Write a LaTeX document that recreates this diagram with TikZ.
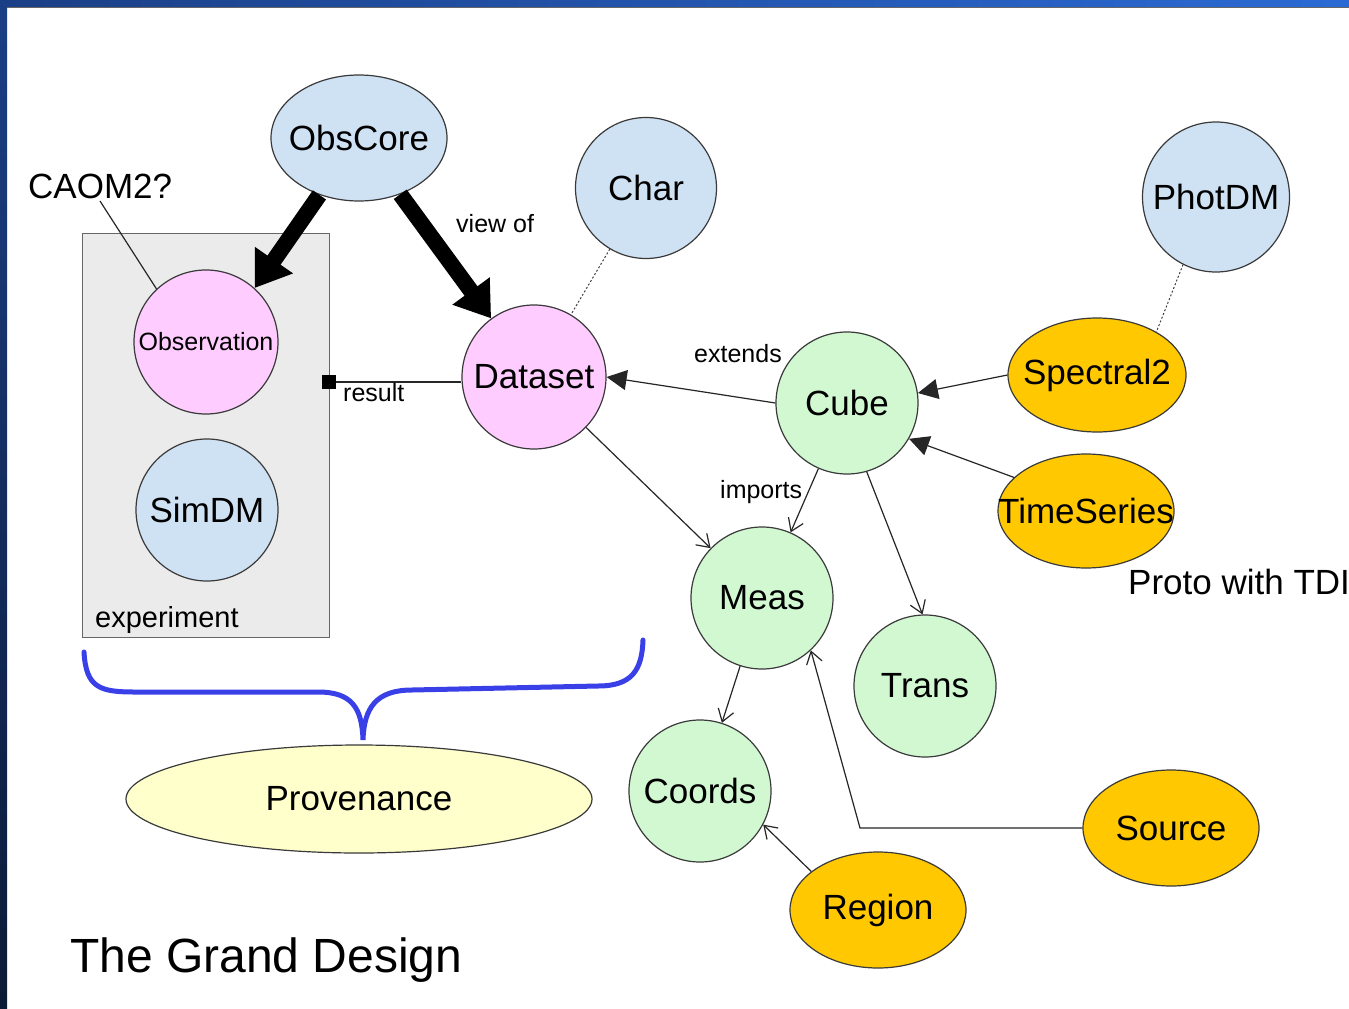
\documentclass[tikz,border=0pt]{standalone}
\usepackage{fontspec}
\setmainfont{Liberation Sans}
\usetikzlibrary{shapes.geometric,arrows.meta,calc}
\definecolor{skyfill}{HTML}{CFE2F3}
\definecolor{pinkfill}{HTML}{FFCCFF}
\definecolor{mintfill}{HTML}{D2F8D2}
\definecolor{goldfill}{HTML}{FFC800}
\definecolor{creamfill}{HTML}{FFFFCC}
\definecolor{boxfill}{HTML}{EBEBEB}
\definecolor{bracecol}{HTML}{3A40E8}
\definecolor{outline}{HTML}{3A3A3A}
\definecolor{bandA}{HTML}{1B3F86}
\definecolor{bandB}{HTML}{2B6AD4}
\definecolor{bandC}{HTML}{0B1A36}
% text that does not widen its node, so the outline keeps its set size
\newcommand\zw[1]{\makebox[0pt]{#1}}
\begin{document}
\begin{tikzpicture}[x=1pt,y=-1pt,
  mdl/.style={draw=outline,line width=1.2pt,inner sep=0pt,font=\fontsize{35}{38}\selectfont},
  ball/.style={mdl,circle,minimum size=142pt},
  oval/.style={mdl,ellipse,minimum width=176pt,minimum height=114pt},
  tag/.style={font=\fontsize{25}{28}\selectfont,inner sep=0pt,anchor=base west},
  thinline/.style={line width=1.2pt,draw=black!85},
  openhead/.style={thinline,-{Straight Barb[length=12pt,width=16pt,line width=1.2pt]}},
  solidhead/.style={thinline,-{Triangle[length=20pt,width=20pt]}},
  bigarrow/.style={line width=16pt,-{Triangle[length=34pt,width=44pt]}},
  dotline/.style={line width=1pt,draw=black!75,dash pattern=on 2pt off 2pt}
]
\useasboundingbox (0,0) rectangle (1349,1009);
\fill[white] (0,0) rectangle (1349,1009);

% slide frame
\shade[left color=bandA,right color=bandB] (0,0) rectangle (1349,7);
\shade[top color=bandA,bottom color=bandC] (0,0) rectangle (7,1009);
\draw[black!60,line width=1pt] (7,7.5) -- (1349,7.5);

% experiment box
\node[draw=black!60,fill=boxfill,line width=1.2pt,inner sep=0pt,
      minimum width=247pt,minimum height=404pt,anchor=north west] (expbox) at (82,233) {};
\node[font=\fontsize{29}{32}\selectfont,inner sep=0pt,anchor=base west] (explabel) at (95,627) {experiment};

% model nodes
\node[oval,fill=skyfill,minimum width=176pt,minimum height=126pt] (obscore) at (359,138) {\zw{ObsCore}};
\node[ball,fill=skyfill,minimum size=141pt] (char) at (646,188) {Char};
\node[oval,fill=skyfill,minimum width=147pt,minimum height=150pt] (photdm) at (1216,197) {\zw{PhotDM}};
\node[ball,fill=pinkfill,minimum size=144pt,font=\fontsize{25}{28}\selectfont] (observation) at (206,342) {\zw{Observation}};
\node[ball,fill=skyfill] (simdm) at (207,510) {SimDM};
\node[ball,fill=pinkfill,minimum size=144pt] (dataset) at (534,377) {\zw{Dataset}};
\node[ball,fill=mintfill] (cube) at (847,403) {Cube};
\node[oval,fill=goldfill,minimum width=178pt] (spectral2) at (1097,375) {\zw{Spectral2}};
\node[oval,fill=goldfill] (timeseries) at (1086,511) {\zw{TimeSeries}};
\node[ball,fill=mintfill] (meas) at (762,598) {Meas};
\node[ball,fill=mintfill] (trans) at (925,686) {Trans};
\node[ball,fill=mintfill] (coords) at (700,791) {\zw{Coords}};
\node[oval,fill=goldfill,minimum height=116pt] (region) at (878,910) {\zw{Region}};
\node[oval,fill=goldfill,minimum height=116pt] (source) at (1171,828) {\zw{Source}};
\node[oval,fill=creamfill,minimum width=466pt,minimum height=108pt] (provenance) at (359,799) {\zw{Provenance}};

% free labels
\node[font=\fontsize{35}{38}\selectfont,inner sep=0pt,anchor=base west] (caom) at (28,198) {CAOM2?};
\node[font=\fontsize{35}{38}\selectfont,inner sep=0pt,anchor=base west] (proto) at (1128,594) {Proto with TDI};
\node[tag] (viewof) at (456,232) {view of};
\node[tag] (extends) at (694,362) {extends};
\node[tag] (imports) at (720,498) {imports};
\node[tag] (result) at (343,401) {result};
\node[font=\fontsize{48}{50}\selectfont,inner sep=0pt,anchor=base west] (title) at (70,972) {The Grand Design};

% connectors
\draw[thinline] (100,201) -- (observation.133);
\draw[bigarrow] (obscore) -- (observation.48);
\draw[bigarrow] (obscore) -- (dataset);

\coordinate (resq) at (329,382);
\draw[thinline] (resq) -- (dataset.west |- resq);
\fill[black] ($(resq)+(-7,-7)$) rectangle ($(resq)+(7,7)$);

\draw[dotline] (char) -- (dataset);
\draw[dotline] (photdm.-116) -- (spectral2.36);

\draw[solidhead] (cube.west) -- (dataset.east);
\draw[solidhead] (spectral2.west) -- (cube.8);
\draw[solidhead] (timeseries.155) -- (cube.-30);

\draw[openhead] (cube) -- (meas);
\draw[openhead] (cube.-74) -- (trans.92);
\draw[openhead] (dataset) -- (meas);
\draw[openhead] (meas) -- (coords);
\draw[openhead] (region.150) -- (coords.-28);
\coordinate (srcbend) at (860,828);
\draw[openhead] (source.west) -- (srcbend) -- (meas.-47);

% brace over the provenance group
\draw[bracecol,line width=5pt,line cap=round]
  (84,652) .. controls (86,688) and (100,692) .. (135,692)
  -- (318,692) .. controls (352,692) and (362,708) .. (363,740)
  .. controls (364,708) and (376,690) .. (412,690)
  -- (598,686) .. controls (632,686) and (642,670) .. (643,640);
\end{tikzpicture}
\end{document}
